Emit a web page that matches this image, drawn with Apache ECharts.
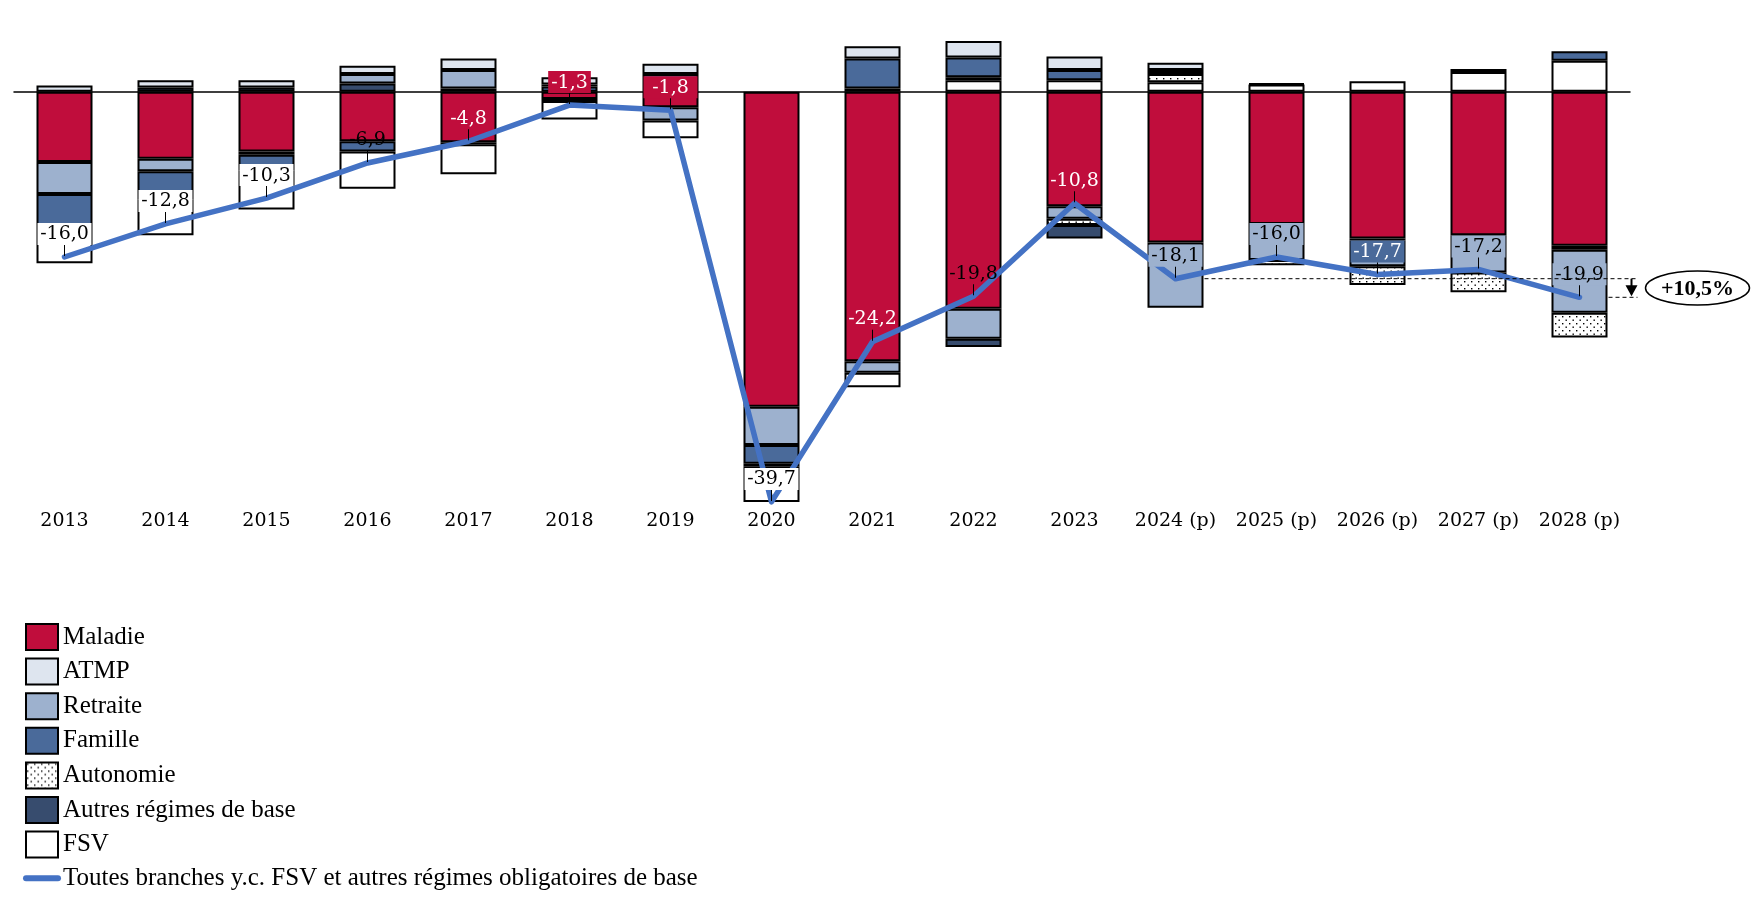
<!DOCTYPE html>
<html><head><meta charset="utf-8">
<script src="https://cdn.jsdelivr.net/npm/echarts@6/dist/echarts.min.js"></script>
<style>html,body{margin:0;padding:0;background:#fff}#c{width:1751px;height:906px}</style>
</head><body><div id="c"></div>
<script>
// ---- data ----
const years = ['2013','2014','2015','2016','2017','2018','2019','2020','2021','2022','2023','2024 (p)','2025 (p)','2026 (p)','2027 (p)','2028 (p)'];
const maladie   = [-6.8,-6.5,-5.8,-4.8,-4.9,-0.7,-1.5,-30.5,-26.1,-21.0,-11.1,-14.6,-12.8,-14.2,-13.9,-14.9];
const atmp      = [0.6, 0.7, 0.7, 0.8, 1.1, 0.7, 1.0, 0, 1.2, 1.6, 1.3, 0.7, 0, -0.2, 0, -0.4];
const retraite  = [-3.1,-1.2,-0.3, 0.9, 1.8, 0.2,-1.3,-3.7,-1.1,-2.9,-1.2,-6.3,-3.5,-2.5,-3.6,-6.1];
const famille   = [-3.2,-2.7,-1.5,-1.0,-0.2, 0.5, 1.7,-1.8, 2.9, 1.9, 1.0, 0.4, 0, 0, 0, 0.9];
const autonomie = [0, 0, 0, 0, 0, 0, 0, 0, 0.3, 0.3,-0.6, 0.8,-0.5,-1.8,-1.9,-2.4];
const autres    = [0, 0.4, 0.4, 0.8, 0.3,-0.2, 0,-0.3, 0,-0.8,-1.3, 0, 0.1, 0, 0.3, 0];
const fsv       = [-3.5,-3.5,-3.8,-3.6,-2.9,-1.8,-1.7,-3.4,-1.4, 1.1, 1.1, 0.9, 0.7, 1.0, 1.9, 3.0];
const totals    = [-16.0,-12.8,-10.3,-6.9,-4.8,-1.3,-1.8,-39.7,-24.2,-19.8,-10.8,-18.1,-16.0,-17.7,-17.2,-19.9];
const branchNames = ['Maladie','ATMP','Retraite','Famille','Autonomie','Autres régimes de base','FSV'];
const lineName = 'Toutes branches y.c. FSV et autres régimes obligatoires de base';
const annotationText = '+10,5%';

// ---- styles ----
const C_MAL = '#C00D3C', C_ATMP = '#DEE5EF', C_RET = '#9DB1CE', C_FAM = '#4A6A9A', C_AUT = '#374C6E', C_LINE = '#4472C4';
const pat = document.createElement('canvas'); pat.width = 7; pat.height = 7;
const g = pat.getContext('2d');
g.fillStyle = '#fff'; g.fillRect(0,0,7,7);
g.fillStyle = '#000'; g.fillRect(1,1,1.4,1.4); g.fillRect(4.5,4.5,1.4,1.4);
const colors = {
  'Maladie': C_MAL, 'ATMP': C_ATMP, 'Retraite': C_RET, 'Famille': C_FAM,
  'Autonomie': {image: pat, repeat: 'repeat'}, 'Autres régimes de base': C_AUT, 'FSV': '#FFFFFF'
};
const labelBg    = ['#fff','#fff','#fff',null,null,C_MAL,C_MAL,'#fff',null,null,null,C_RET,C_RET,C_FAM,C_RET,C_RET];
const labelColor = ['#000','#000','#000','#000','#fff','#fff','#fff','#000','#fff','#000','#fff','#000','#000','#fff','#000','#000'];
const labelFullWidth = [1,1,1,0,0,0,1,1,0,0,0,1,1,1,1,1];

const branchValues = [maladie, atmp, retraite, famille, autonomie, autres, fsv];
const fmt = v => v.toFixed(1).replace('.', ',');

function bar(name, data, stack) {
  return {
    type: 'bar', name, stack, data, barWidth: 56, barGap: '-100%',
    itemStyle: {color: colors[name], borderColor: '#000', borderWidth: 2},
    emphasis: {disabled: true}, z: 2
  };
}
const series = [];
branchNames.forEach((n, i) => series.push(bar(n, branchValues[i].map(v => v < 0 ? v : '-'), 'neg')));
for (let i = branchNames.length - 1; i >= 0; i--) series.push(bar(branchNames[i], branchValues[i].map(v => v > 0 ? v : '-'), 'pos'));

function makeLabel(i) {
  const v = {fontFamily: 'DejaVu Serif', fontSize: 19, color: labelColor[i], padding: [2, 3, 1, 3], lineHeight: 22, align: 'center'};
  if (labelBg[i]) v.backgroundColor = labelBg[i];
  if (labelFullWidth[i]) v.width = 48;
  return {
    show: true, position: 'top', distance: 0,
    formatter: '{v|' + fmt(totals[i]) + '}\n{t|}',
    rich: {v, t: {width: 1, height: 11, backgroundColor: '#000'}}
  };
}
const lineIndex = series.length;
series.push({
  type: 'line', name: lineName,
  data: totals.map((v, i) => ({value: v, label: makeLabel(i)})),
  symbol: 'circle', symbolSize: 2, showSymbol: true,
  lineStyle: {color: C_LINE, width: 5.5, cap: 'round', join: 'round'},
  itemStyle: {color: C_LINE}, z: 5, emphasis: {disabled: true},
  label: {show: true, position: 'top'}
});

const chart = echarts.init(document.getElementById('c'), null, {renderer: 'canvas'});
chart.setOption({
  animation: false,
  backgroundColor: '#fff',
  grid: {left: 14, right: 121, top: 40, height: 465, containLabel: false, outerBoundsMode: 'none'},
  xAxis: [
    {type: 'category', data: years, axisLine: {onZero: true, lineStyle: {color: '#000', width: 1.5}},
     axisTick: {show: false}, axisLabel: {show: false}, splitLine: {show: false}},
    {type: 'category', data: years, position: 'bottom', axisLine: {show: false, onZero: false},
     axisTick: {show: false}, splitLine: {show: false},
     axisLabel: {fontFamily: 'DejaVu Serif', fontSize: 19, color: '#000', margin: 7, interval: 0}}
  ],
  yAxis: {type: 'value', min: -40, max: 5, show: false, splitLine: {show: false}},
  legend: {
    orient: 'vertical', left: 23, top: 623, padding: 0,
    itemWidth: 32, itemHeight: 26, itemGap: 6.6, selectedMode: false,
    textStyle: {fontFamily: 'Liberation Serif', fontSize: 25, lineHeight: 26, color: '#000'},
    data: branchNames.map(n => ({name: n, icon: 'rect'})).concat([
      {name: lineName, itemStyle: {opacity: 0}, lineStyle: {width: 6, cap: 'round', color: C_LINE}}
    ])
  },
  tooltip: {show: false},
  series
});

// ---- annotation (+10,5%) placed from data positions ----
const pA = chart.convertToPixel({seriesIndex: lineIndex}, [years[11], totals[11]]);
const pB = chart.convertToPixel({seriesIndex: lineIndex}, [years[15], totals[15]]);
const half = 29;
const xEnd = pB[0] + 58;
const ax = pB[0] + 52;
const cx = pB[0] + 118, cy = (pA[1] + pB[1]) / 2;
chart.setOption({
  graphic: [
    {type: 'line', z: 100, shape: {x1: pA[0] + half, y1: pA[1], x2: xEnd, y2: pA[1]},
     style: {stroke: '#000', lineWidth: 1, lineDash: [4, 3]}},
    {type: 'line', z: 100, shape: {x1: pB[0] + half, y1: pB[1], x2: xEnd, y2: pB[1]},
     style: {stroke: '#000', lineWidth: 1, lineDash: [4, 3]}},
    {type: 'line', z: 100, shape: {x1: ax, y1: pA[1], x2: ax, y2: pB[1] - 10},
     style: {stroke: '#000', lineWidth: 2}},
    {type: 'polygon', z: 100, shape: {points: [[ax - 6, pB[1] - 12], [ax + 6, pB[1] - 12], [ax, pB[1] - 1]]},
     style: {fill: '#000'}},
    {type: 'ellipse', z: 100, shape: {cx, cy, rx: 52, ry: 17},
     style: {fill: '#fff', stroke: '#000', lineWidth: 1.5}},
    {type: 'text', z: 101, x: cx, y: cy + 1,
     style: {text: annotationText, font: 'bold 22px "Liberation Serif"', fill: '#000', align: 'center', verticalAlign: 'middle'}}
  ]
});
</script></body></html>
